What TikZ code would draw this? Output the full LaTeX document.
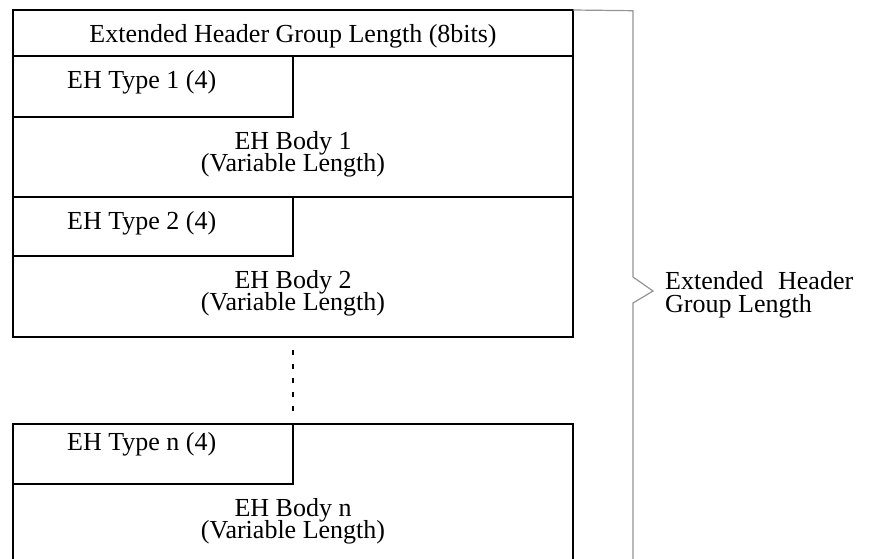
\documentclass[tikz,border=0pt]{standalone}
\usepackage{fontspec}
\setmainfont{Liberation Serif}
\begin{document}
\begin{tikzpicture}[x=1pt,y=-1pt,
  frame/.style={draw=black, line width=1.3pt, inner sep=0pt, outer sep=0pt, anchor=north west},
  lbl/.style={font=\fontsize{26}{22}\selectfont, inner sep=0pt},
  brace/.style={draw=black!42, line width=1.2pt},
  dots/.style={line width=1.1pt, dash pattern=on 5pt off 9pt}]
\clip (0,0) rectangle (872,558);
\useasboundingbox (0,0) rectangle (872,558);

% group header and extension blocks
\node[frame, minimum width=560pt, minimum height=46pt]  (hdr)  at (13,10)  {};
\node[frame, minimum width=560pt, minimum height=141pt] (grp1) at (13,56)  {};
\node[frame, minimum width=280pt, minimum height=61pt]  (ty1)  at (13,56)  {};
\node[frame, minimum width=560pt, minimum height=140pt] (grp2) at (13,197) {};
\node[frame, minimum width=280pt, minimum height=59pt]  (ty2)  at (13,197) {};
\node[frame, minimum width=560pt, minimum height=140pt] (grpn) at (13,424) {};
\node[frame, minimum width=280pt, minimum height=60pt]  (tyn)  at (13,424) {};

% field texts
\node[lbl, anchor=base] (thdr) at (293,42.5) {Extended Header Group Length (8bits)};
\node[lbl, anchor=base west] (tty1) at (67,88) {EH Type 1 (4)};
\node[lbl, anchor=base] (tb1a) at (293,149) {EH Body 1};
\node[lbl, anchor=base] (tb1b) at (293,171) {(Variable Length)};
\node[lbl, anchor=base west] (tty2) at (67,229.5) {EH Type 2 (4)};
\node[lbl, anchor=base] (tb2a) at (293,288) {EH Body 2};
\node[lbl, anchor=base] (tb2b) at (293,310) {(Variable Length)};
\node[lbl, anchor=base west] (ttyn) at (67,450.5) {EH Type n (4)};
\node[lbl, anchor=base] (tbna) at (293,516) {EH Body n};
\node[lbl, anchor=base] (tbnb) at (293,538) {(Variable Length)};

% ellipsis between block 2 and block n
\coordinate (gapTop) at (293,350);
\coordinate (gapBot) at (293,411);
\draw[dots] (gapTop) -- (gapBot);

% bracket spanning the whole group
\coordinate (bTop) at (633,10.7);
\coordinate (bUp)  at (633,277);
\coordinate (bTip) at (653,291);
\coordinate (bLow) at (633,303);
\coordinate (bEnd) at (633,562);
\draw[brace] (hdr.north east) -- (bTop) -- (bUp) -- (bTip) -- (bLow) -- (bEnd);

\node[lbl, anchor=base west] (lg1) at (665,289) {\makebox[188pt][s]{Extended Header}};
\node[lbl, anchor=base west] (lg2) at (665,312) {Group Length};
\end{tikzpicture}
\end{document}
